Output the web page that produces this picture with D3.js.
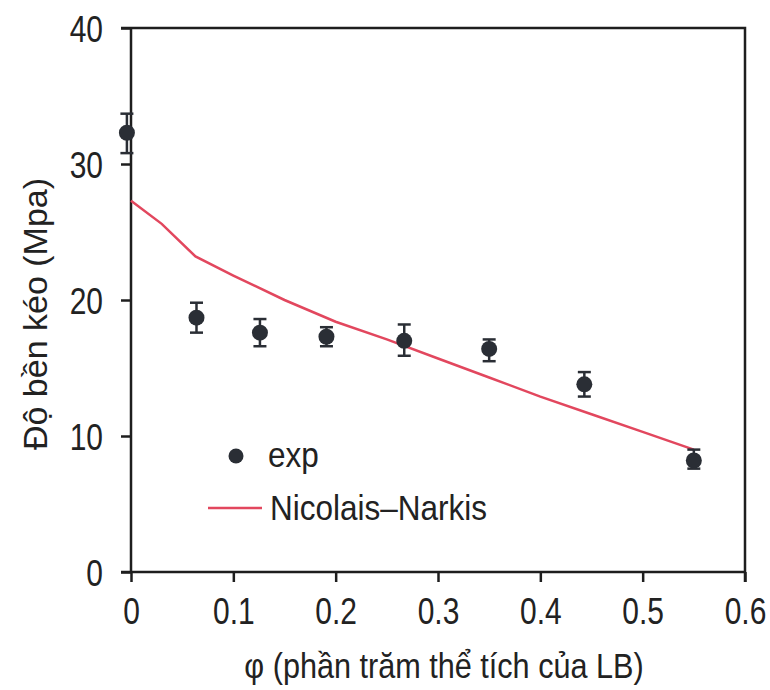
<!DOCTYPE html>
<html lang="vi">
<head>
  <meta charset="UTF-8">
  <style>
    body {
      margin: 0;
      background: #fff;
      overflow: hidden;
    }

    svg {
      display: block;
    }

    text {
      font-family: "Liberation Sans", Arial, sans-serif;
      fill: #222;
    }

    .axis path,
    .axis line {
      stroke: #1e1e1e;
      stroke-width: 2.5;
    }

    .frame {
      stroke: #1e1e1e;
      stroke-width: 2.5;
      fill: none;
    }

    .model {
      fill: none;
      stroke: #e2475e;
      stroke-width: 2.5;
    }

    .err {
      stroke: #2a2e35;
      stroke-width: 2.5;
    }

    .dot {
      fill: #2a2e35;
    }
  </style>
  <script src="https://d3js.org/d3.v7.min.js"></script>
</head>
<body>

<svg id="chart"></svg>

<script>
  // experimental points: phi, strength, error bar low / high
  const expPhi = [-0.004, 0.064, 0.126, 0.191, 0.267, 0.35, 0.443, 0.55];
  const expVal = [32.3, 18.7, 17.6, 17.3, 17.0, 16.4, 13.8, 8.2];
  const expLow = [30.8, 17.6, 16.6, 16.6, 15.9, 15.5, 12.9, 7.6];
  const expHigh = [33.7, 19.8, 18.6, 18.0, 18.2, 17.1, 14.7, 9.0];

  // Nicolais-Narkis model curve
  const modelPhi = [0, 0.03, 0.063, 0.1, 0.15, 0.2, 0.25, 0.3, 0.35, 0.4, 0.45, 0.5, 0.55];
  const modelVal = [27.3, 25.6, 23.2, 21.8, 20.0, 18.4, 17.1, 15.7, 14.3, 12.9, 11.6, 10.3, 9.0];

  const xTicks = [0, 0.1, 0.2, 0.3, 0.4, 0.5, 0.6];
  const yTicks = [0, 10, 20, 30, 40];

  const legendLabels = ["exp", "Nicolais\u2013Narkis"];
  const xTitle = "\u03c6 (phần trăm thể tích của LB)";
  const yTitle = "Độ bền kéo (Mpa)";

  const width = 770, height = 690;
  const margin = { top: 28, right: 25, bottom: 118, left: 131 };

  const svg = d3.select("#chart")
    .attr("width", width)
    .attr("height", height);

  const x = d3.scaleLinear()
    .domain([0, 0.6])
    .range([margin.left, width - margin.right]);

  const y = d3.scaleLinear()
    .domain([0, 40])
    .range([height - margin.bottom, margin.top]);

  // the scanned figure is a bit narrow, so text gets squeezed sideways
  function squeeze(sel, sx) {
    sel.each(function() {
      const t = d3.select(this);
      const x0 = +t.attr("x") || 0;
      t.attr("x", x0 / sx)
        .attr("transform", `scale(${sx},1)`);
    });
  }

  // frame: top and right lines
  svg.append("path")
    .attr("class", "frame")
    .attr("d", `M${x(0) - 10},${y(40)}H${x(0.6)}V${y(0) + 10}`);

  const xAxis = svg.append("g")
    .attr("class", "axis")
    .attr("transform", `translate(0,${y(0)})`)
    .call(d3.axisBottom(x).tickValues(xTicks).tickFormat(d3.format("~g"))
      .tickSize(10).tickPadding(16));

  const yAxis = svg.append("g")
    .attr("class", "axis")
    .attr("transform", `translate(${x(0)},0)`)
    .call(d3.axisLeft(y).tickValues(yTicks).tickSize(10).tickPadding(18));

  // bottom line runs past the y axis like in the plot
  xAxis.select(".domain").attr("d", `M${x(0) - 10},0H${x(0.6)}`);
  yAxis.select(".domain").attr("d", `M0,${y(0)}V${y(40)}`);

  svg.selectAll(".axis text")
    .attr("font-size", 37)
    .attr("fill", "#222");
  yAxis.selectAll("text").attr("dy", "0.36em");
  squeeze(svg.selectAll(".axis text"), 0.81);

  // model curve
  const line = d3.line()
    .x((d, i) => x(modelPhi[i]))
    .y(d => y(d));

  svg.append("path")
    .attr("class", "model")
    .attr("d", line(modelVal));

  // error bars
  const capW = 6.5;
  const pts = expPhi.map((p, i) => ({ p, v: expVal[i], lo: expLow[i], hi: expHigh[i] }));

  const bars = svg.append("g").selectAll("g")
    .data(pts)
    .join("g");

  bars.append("line")
    .attr("class", "err")
    .attr("x1", d => x(d.p)).attr("x2", d => x(d.p))
    .attr("y1", d => y(d.lo)).attr("y2", d => y(d.hi));

  bars.append("line")
    .attr("class", "err")
    .attr("x1", d => x(d.p) - capW).attr("x2", d => x(d.p) + capW)
    .attr("y1", d => y(d.hi)).attr("y2", d => y(d.hi));

  bars.append("line")
    .attr("class", "err")
    .attr("x1", d => x(d.p) - capW).attr("x2", d => x(d.p) + capW)
    .attr("y1", d => y(d.lo)).attr("y2", d => y(d.lo));

  bars.append("circle")
    .attr("class", "dot")
    .attr("cx", d => x(d.p))
    .attr("cy", d => y(d.v))
    .attr("r", 8);

  // legend
  const lg = svg.append("g");
  lg.append("circle")
    .attr("class", "dot")
    .attr("cx", 236).attr("cy", 456).attr("r", 7.5);
  lg.append("text")
    .attr("x", 268).attr("y", 467)
    .attr("font-size", 35)
    .text(legendLabels[0]);
  lg.append("line")
    .attr("class", "model")
    .attr("x1", 208).attr("x2", 262)
    .attr("y1", 508).attr("y2", 508);
  lg.append("text")
    .attr("x", 270).attr("y", 520)
    .attr("font-size", 35)
    .text(legendLabels[1]);
  squeeze(lg.selectAll("text"), 0.9);

  // axis titles
  svg.append("text")
    .attr("x", 444)
    .attr("y", 678)
    .attr("text-anchor", "middle")
    .attr("font-size", 35)
    .text(xTitle)
    .call(squeeze, 0.875);

  svg.append("text")
    .attr("transform", `translate(47,314) rotate(-90)`)
    .attr("text-anchor", "middle")
    .attr("font-size", 34)
    .text(yTitle);
</script>

</body>
</html>
